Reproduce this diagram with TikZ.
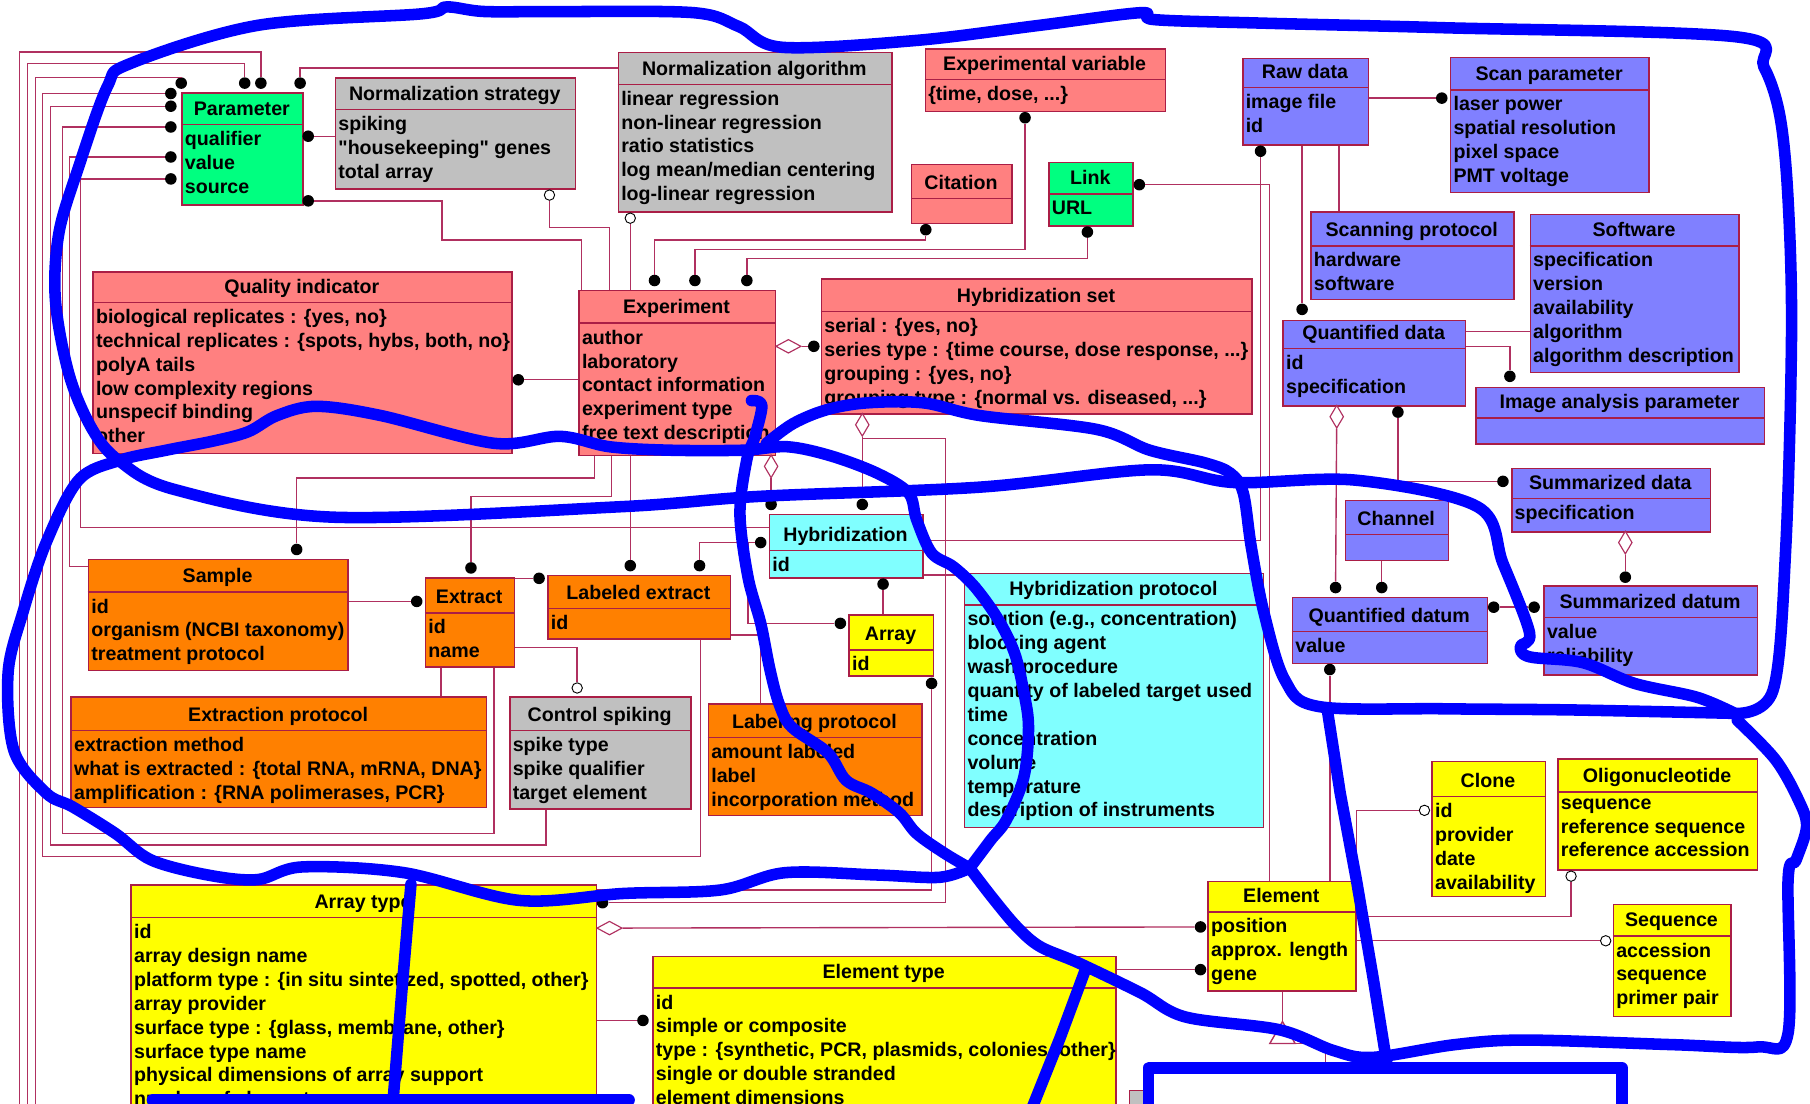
\documentclass[tikz,border=0pt]{standalone}
\usepackage{fontspec}
\setmainfont{Liberation Sans}
\usepackage{xcolor}
\usetikzlibrary{shapes.geometric}

\definecolor{umlline}{RGB}{176,48,96}
\definecolor{umlborder}{RGB}{170,30,70}
\definecolor{salmon}{RGB}{255,128,128}
\definecolor{greybox}{RGB}{192,192,192}
\definecolor{greenbox}{RGB}{0,255,128}
\definecolor{violetbox}{RGB}{128,128,255}
\definecolor{cyanbox}{RGB}{128,255,255}
\definecolor{orangebox}{RGB}{255,128,0}
\definecolor{yellowbox}{RGB}{255,255,0}
\definecolor{pen}{RGB}{0,0,255}

\newcommand{\umlfont}{\fontsize{17}{20.7}\selectfont\bfseries}
% straight double quote, without the TeX mapping
\font\qfont="Liberation Sans/B" at 17pt
\newcommand{\sq}{{\qfont"}}

% #1 name, #2 fill, #3 x1, #4 y1, #5 x2, #6 y2, #7 header bottom, #8 title, #9 attributes
\newcommand{\umlclass}[9]{%
  \node[classbox, fill=#2, anchor=north west,
        minimum width={(#5-#3)*1pt}, minimum height={(#6-#4)*1pt}] (#1) at (#3,-#4) {};
  \draw[umlborder, line width=1.3pt] (#3,-#7) -- (#5,-#7);
  \node[font=\umlfont, anchor=base, inner sep=0pt] at ({(#3+#5)/2},{8-#7}) {#8};
  \node[font=\umlfont, anchor=north west, align=left, inner sep=0pt] at ({#3+3},{-#7-5.6}) {#9};
}

\tikzset{
  classbox/.style={draw=umlborder, line width=1.3pt, inner sep=0pt},
  conn/.style={draw=umlline, line width=1.2pt},
  blob/.style={circle, fill=black, inner sep=0pt, minimum size=10pt},
  ring/.style={circle, draw=black, fill=white, line width=0.8pt, inner sep=0pt, minimum size=9pt},
  aggh/.style={diamond, draw=umlline, fill=white, line width=1pt, inner sep=0pt, minimum width=22pt, minimum height=12pt},
  aggv/.style={diamond, draw=umlline, fill=white, line width=1pt, inner sep=0pt, minimum width=12pt, minimum height=20pt},
  ink/.style={draw=pen, line width=10pt, line cap=round, line join=round}
}

\begin{document}
\begin{tikzpicture}[x=1pt, y=1pt]
\useasboundingbox (0,0) rectangle (1568,-956);
\clip (0,0) rectangle (1568,-956);

% classes
\umlclass{param}{greenbox}{157}{80}{262}{177}{108}{Parameter}{qualifier\\value\\source}
\umlclass{nstrat}{greybox}{290}{67}{498}{163}{95}{Normalization strategy}{spiking\\\sq housekeeping\sq\ genes\\total array}
\umlclass{nalgo}{greybox}{535}{45}{772}{183}{73}{Normalization algorithm}{linear regression\\non-linear regression\\ratio statistics\\log mean/median centering\\log-linear regression}
\umlclass{expvar}{salmon}{801}{42}{1009}{96}{69}{Experimental variable}{\{time, dose, ...\}}
\umlclass{cite}{salmon}{789}{142}{876}{193}{172}{Citation}{}
\umlclass{link}{greenbox}{908}{140}{981}{195}{168}{Link}{URL}
\umlclass{raw}{violetbox}{1076}{50}{1185}{125}{76}{Raw data}{image file\\id}
\umlclass{scanpar}{violetbox}{1256}{49}{1428}{166}{78}{Scan parameter}{laser power\\spatial resolution\\pixel space\\PMT voltage}
\umlclass{scanprot}{violetbox}{1135}{183}{1311}{259}{213}{Scanning protocol}{hardware\\software}
\umlclass{soft}{violetbox}{1325}{185}{1506}{322}{213}{Software}{specification\\version\\availability\\algorithm\\algorithm description}
\umlclass{qdata}{violetbox}{1111}{277}{1269}{351}{302}{Quantified data}{id\\specification}
\umlclass{iap}{violetbox}{1278}{335}{1528}{384}{362}{Image analysis parameter}{}
\umlclass{qual}{salmon}{80}{235}{443}{392}{262}{Quality indicator}{biological replicates : \{yes, no\}\\technical replicates : \{spots, hybs, both, no\}\\polyA tails\\low complexity regions\\unspecif binding\\other}
\umlclass{expt}{salmon}{501}{251}{671}{394}{280}{Experiment}{author\\laboratory\\contact information\\experiment type\\free text description}
\umlclass{hset}{salmon}{711}{241}{1084}{358}{270}{Hybridization set}{serial : \{yes, no\}\\series type : \{time course, dose response, ...\}\\grouping : \{yes, no\}\\grouping type : \{normal vs. diseased, ...\}}
\umlclass{sdata}{violetbox}{1309}{405}{1481}{460}{432}{Summarized data}{specification}
\umlclass{chan}{violetbox}{1165}{433}{1254}{485}{463}{Channel}{}
\umlclass{hyb}{cyanbox}{666}{445}{799}{500}{477}{Hybridization}{id}
\umlclass{hprot}{cyanbox}{835}{496}{1094}{716}{524}{Hybridization protocol}{solution (e.g., concentration)\\blocking agent\\wash procedure\\quantity of labeled target used\\time\\concentration\\volume\\temperature\\description of instruments}
\umlclass{qdatum}{violetbox}{1119}{517}{1288}{574}{547}{Quantified datum}{value}
\umlclass{sdatum}{violetbox}{1337}{507}{1522}{584}{535}{Summarized datum}{value\\reliability}
\umlclass{sample}{orangebox}{76}{484}{301}{580}{513}{Sample}{id\\organism (NCBI taxonomy)\\treatment protocol}
\umlclass{extr}{orangebox}{368}{500}{445}{577}{531}{Extract}{id\\name}
\umlclass{lext}{orangebox}{474}{498}{632}{553}{527}{Labeled extract}{id}
\umlclass{array}{yellowbox}{735}{532}{808}{585}{563}{Array}{id}
\umlclass{xprot}{orangebox}{61}{603}{421}{699}{633}{Extraction protocol}{extraction method\\what is extracted : \{total RNA, mRNA, DNA\}\\amplification : \{RNA polimerases, PCR\}}
\umlclass{spike}{greybox}{441}{603}{598}{700}{633}{Control spiking}{spike type\\spike qualifier\\target element}
\umlclass{lprot}{orangebox}{613}{609}{798}{706}{639}{Labeling protocol}{amount labeled\\label\\incorporation method}
\umlclass{clone}{yellowbox}{1240}{659}{1338}{776}{690}{Clone}{id\\provider\\date\\availability}
\umlclass{oligo}{yellowbox}{1349}{657}{1522}{753}{686}{Oligonucleotide}{sequence\\reference sequence\\reference accession}
\umlclass{elem}{yellowbox}{1046}{763}{1174}{858}{790}{Element}{position\\approx. length\\gene}
\umlclass{seq}{yellowbox}{1397}{783}{1499}{880}{811}{Sequence}{accession\\sequence\\primer pair}
\umlclass{atype}{yellowbox}{113}{766}{516}{990}{795}{Array type}{id\\array design name\\platform type : \{in situ sintetized, spotted, other\}\\array provider\\surface type : \{glass, membrane, other\}\\surface type name\\physical dimensions of array support\\number of elements}
\umlclass{etype}{yellowbox}{565}{828}{966}{990}{856}{Element type}{id\\simple or composite\\type : \{synthetic, PCR, plasmids, colonies, other\}\\single or double stranded\\element dimensions}
\node[classbox, fill=greybox, anchor=north west, minimum width=30pt, minimum height=30pt] (hidden) at (978,-944) {};

% markers
\node[blob] (pb1) at (226,-72) {};
\node[blob] (pb2) at (212,-72) {};
\node[blob] (pb3) at (157,-72) {};
\node[blob] (pb4) at (148,-81) {};
\node[blob] (pb5) at (148,-92) {};
\node[blob] (pb6) at (148,-110) {};
\node[blob] (pb7) at (148,-136) {};
\node[blob] (pb8) at (148,-155) {};
\node[blob] (pb9) at (260,-72) {};
\node[blob] (pb10) at (267,-118) {};
\node[blob] (pb11) at (267,-174) {};
\node[ring] (nr1) at (476,-169) {};
\node[ring] (nr2) at (546,-189) {};
\node[blob] (cb) at (802,-199) {};
\node[blob] (vb) at (888,-102) {};
\node[blob] (lb) at (942,-201) {};
\node[blob] (lb2) at (987,-160) {};
\node[blob] (eb1) at (567,-243) {};
\node[blob] (eb2) at (602,-243) {};
\node[blob] (eb3) at (647,-243) {};
\node[blob] (qb) at (449,-329) {};
\node[aggh] (ed) at (683,-300) {};
\node[blob] (hsb) at (705,-300) {};
\node[blob] (smb) at (257,-476) {};
\node[blob] (exb) at (408,-492) {};
\node[blob] (leb1) at (546,-490) {};
\node[blob] (leb2) at (606,-490) {};
\node[aggv] (ed2) at (668,-404) {};
\node[blob] (hyb1) at (668,-437) {};
\node[aggv] (hsd) at (747,-368) {};
\node[blob] (hyb2) at (747,-437) {};
\node[blob] (hyb3) at (659,-470) {};
\node[blob] (hyb4) at (765,-506) {};
\node[blob] (arb1) at (728,-540) {};
\node[blob] (arb2) at (807,-592) {};
\node[blob] (atb) at (522,-782) {};
\node[blob] (rawb) at (1092,-131) {};
\node[blob] (exb2) at (361,-521) {};
\node[blob] (leb3) at (467,-501) {};
\node[ring] (spr) at (500,-596) {};
\node[blob] (spb) at (1249,-85) {};
\node[blob] (qdb) at (1128,-268) {};
\node[blob] (iapb) at (1308,-326) {};
\node[aggv] (qdd) at (1158,-361) {};
\node[blob] (qtb1) at (1157,-509) {};
\node[blob] (qdb2) at (1211,-357) {};
\node[blob] (sdb) at (1302,-417) {};
\node[blob] (qtb2) at (1197,-509) {};
\node[blob] (qtb3) at (1294,-526) {};
\node[blob] (sdtb) at (1329,-526) {};
\node[aggv] (sdd) at (1408,-470) {};
\node[blob] (sdtb2) at (1408,-500) {};
\node[blob] (qtb4) at (1152,-580) {};
\node[ring] (clr) at (1234,-702) {};
\node[ring] (olr) at (1361,-759) {};
\node[ring] (sqr) at (1391,-815) {};
\node[aggh] (atd) at (528,-804) {};
\node[blob] (elb1) at (1040,-803) {};
\node[blob] (elb2) at (1040,-840) {};
\node[blob] (etb) at (557,-884) {};
\coordinate (offA) at (17,-960);
\coordinate (offB) at (24,-960);
\coordinate (offC) at (31,-960);

% connectors
\draw[conn] (pb1) |- (17,-45) -- (offA);
\draw[conn] (pb2) |- (24,-55) -- (offB);
\draw[conn] (pb3) |- (31,-67) -- (offC);
\draw[conn] (pb4) -| (37,-742) -| (lext.south -| 607,0);
\draw[conn] (pb5) -| (44,-732) -| (spike.south -| 473,0);
\draw[conn] (pb6) -| (54,-722) -| (extr.south -| 428,0);
\draw[conn] (pb7) -| (60,-491) -- (sample.west |- 0,-491);
\draw[conn] (pb8) -| (70,-457) -- (hyb.west |- 0,-457);
\draw[conn] (pb9) |- (nalgo.west |- 0,-59);
\draw[conn] (pb10) -- (nstrat.west |- pb10);
\draw[conn] (pb11) -| (383,-208) -| (expt.north -| 504,0);
\draw[conn] (nr1) |- (528,-197) -- (expt.north -| 528,0);
\draw[conn] (nr2) -- (expt.north -| nr2);
\draw[conn] (cb) |- (567,-208) -- (eb1);
\draw[conn] (vb) |- (602,-216) -- (eb2);
\draw[conn] (lb) |- (647,-224) -- (eb3);
\draw[conn] (lb2) -| (elem.north -| 1100,0);
\draw[conn] (qb) -- (expt.west |- qb);
\draw[conn] (ed) -- (hsb);
\draw[conn] (expt.south -| 515,0) |- (257,-414) -- (smb);
\draw[conn] (expt.south -| 530,0) |- (408,-430) -- (exb);
\draw[conn] (expt.south -| leb1) -- (leb1);
\draw[conn] (ed2) -- (hyb1);
\draw[conn] (hsd) -- (hyb2);
\draw[conn] (747,-380) -| (819,-782) -- (atb);
\draw[conn] (leb2) |- (hyb3);
\draw[conn] (648,-470) |- (arb1);
\draw[conn] (hyb4) -- (array.north -| hyb4);
\draw[conn] (arb2) |- (atype.east |- 0,-771);
\draw[conn] (hyb.east |- 0,-468) -| (rawb);
\draw[conn] (hyb.east |- 0,-498) -- (hprot.west |- 0,-498);
\draw[conn] (sample.east |- exb2) -- (exb2);
\draw[conn] (extr.east |- leb3) -- (leb3);
\draw[conn] (extr.east |- 0,-561) -| (spr);
\draw[conn] (extr.south -| 382,0) -- (xprot.north -| 382,0);
\draw[conn] (lext.east |- 0,-550) -| (lprot.north -| 659,0);
\draw[conn] (raw.east |- spb) -- (spb);
\draw[conn] (raw.south -| qdb) -- (qdb);
\draw[conn] (raw.south -| 1160,0) -- (scanprot.north -| 1160,0);
\draw[conn] (qdata.east |- 0,-287) -- (soft.west |- 0,-287);
\draw[conn] (qdata.east |- 0,-300) -| (iapb);
\draw[conn] (qdd) -- (qtb1);
\draw[conn] (qdb2) |- (sdb);
\draw[conn] (chan.south -| qtb2) -- (qtb2);
\draw[conn] (qtb3) -- (sdtb);
\draw[conn] (sdd) -- (sdtb2);
\draw[conn] (qtb4) -- (elem.north -| qtb4);
\draw[conn] (elem.north -| 1175,0) |- (clr);
\draw[conn] (elem.east |- 0,-794) -| (olr);
\draw[conn] (elem.east |- sqr) -- (sqr);
\draw[conn] (atd) -- (elb1);
\draw[conn] (etype.east |- elb2) -- (elb2);
\draw[conn] (atype.east |- etb) -- (etb);
\draw[conn] (elem.south -| 1111,0) -- (1111,-885);
\draw[conn, fill=white] (1111,-885) -- (1100,-904) -- (1122,-904) -- cycle;
\draw[conn] (1122,-904) -| (1148,-930);

% hand-drawn blue marks
\draw[ink] plot[smooth, tension=0.55] coordinates {(1503,-618) (1536,-598) (1547,-474) (1552,-288) (1549,-173) (1542,-101) (1528,-58) (1505,-32) (1250,-24) (1092,-20) (1000,-17) (988,-11) (900,-22) (794,-35) (678,-41) (640,-23) (601,-11) (485,-10) (420,-10) (387,-6) (365,-12) (223,-22) (113,-55) (93,-75) (68,-145) (51,-202) (48,-260) (60,-325) (80,-372) (103,-399) (151,-424) (288,-448) (537,-439) (658,-430) (849,-422) (996,-407) (1069,-418) (1175,-416) (1280,-439) (1302,-488) (1325,-548) (1317,-560) (1325,-569) (1371,-574) (1416,-592) (1470,-604) (1503,-618)};
\draw[ink] plot[smooth, tension=0.55] coordinates {(651,-347) (660,-351) (654,-378) (647,-398) (641,-445) (648,-500) (659,-540) (667,-580) (675,-610) (686,-630) (717,-652) (733,-676) (755,-687) (779,-704) (794,-722) (818,-739) (840,-752)};
\draw[ink] plot[smooth, tension=0.55] coordinates {(840,-752) (858,-728) (872,-710) (887,-673) (891,-630) (887,-600) (879,-566) (865,-537) (845,-509) (826,-491) (807,-479) (794,-450) (787,-427) (760,-410) (720,-395) (682,-387) (644,-390) (580,-390) (528,-387) (485,-378) (428,-384) (330,-360) (274,-352) (240,-360) (215,-374) (185,-382) (144,-390) (103,-399) (68,-416) (40,-470) (20,-530) (7,-583) (12,-650) (40,-687) (63,-699) (100,-722) (131,-745) (180,-758) (223,-762) (262,-751) (350,-756) (450,-780) (540,-774) (624,-771) (680,-756) (760,-758) (814,-760) (840,-752)};
\draw[ink] plot[smooth, tension=0.55] coordinates {(840,-752) (860,-778) (881,-803) (901,-820) (934,-834) (988,-860) (1027,-881) (1108,-892) (1155,-910) (1189,-916) (1260,-905) (1322,-901) (1450,-905) (1522,-907) (1549,-895) (1549,-762) (1556,-745) (1565,-716) (1558,-693) (1538,-658) (1505,-624)};
\draw[ink] plot[smooth, tension=0.55] coordinates {(664,-384) (687,-367) (716,-355) (751,-349) (800,-349) (849,-360) (950,-372) (996,-390) (1044,-401) (1066,-410) (1077,-427) (1084,-474) (1095,-531) (1113,-589) (1142,-612) (1250,-614) (1361,-615) (1503,-618)};
\draw[ink] (1150,-616) -- (1161,-687) -- (1175,-762) -- (1190,-850) -- (1202,-925);
\draw[ink] (356,-766) -- (348,-860) -- (340,-960);
\draw[ink] (941,-838) -- (918,-900) -- (894,-960);
\draw[ink, fill=white] (995,-925) rectangle (1405,-980);
\draw[ink] (132,-953) -- (545,-953);
\end{tikzpicture}
\end{document}
